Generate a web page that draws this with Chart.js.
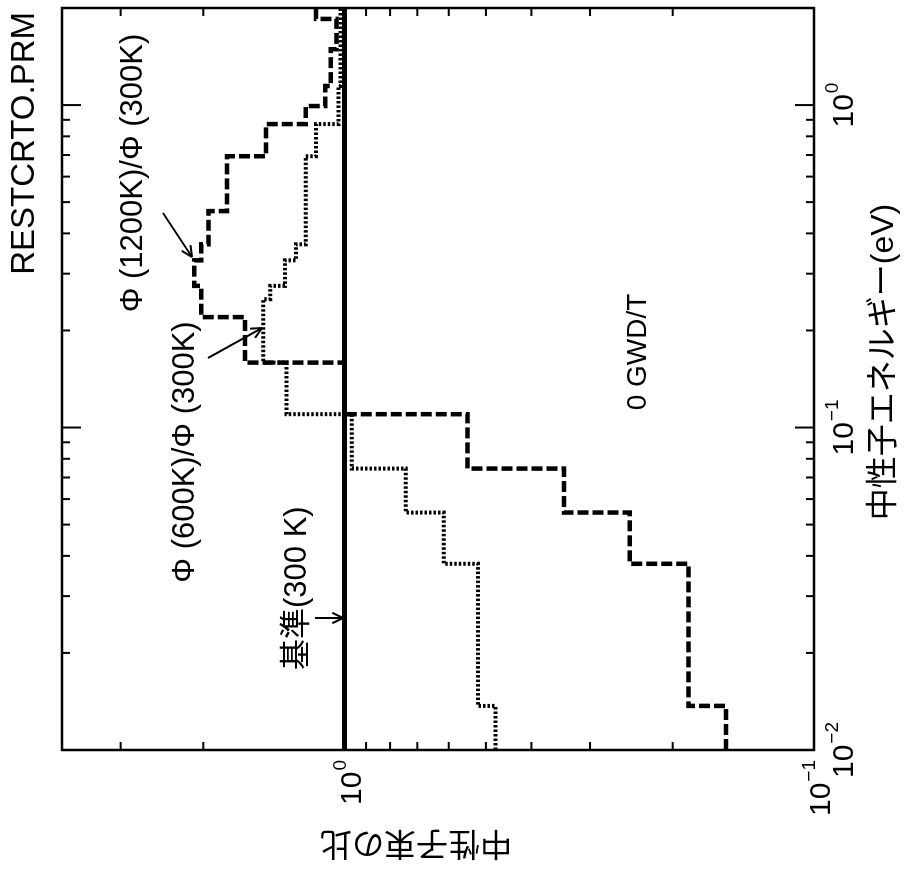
<!DOCTYPE html>
<html>
<head>
<meta charset="utf-8">
<script src="https://cdn.jsdelivr.net/npm/chart.js@4"></script>
<style>
  html, body { margin: 0; padding: 0; background: #fff; }
  body { width: 904px; height: 870px; overflow: hidden; position: relative; }
  /* the plot is laid out with energy along x, then turned a quarter turn */
  #wrap { position: absolute; left: 17px; top: -17px; width: 870px; height: 904px; transform: rotate(-90deg); }
</style>
</head>
<body>
<div id="wrap"><canvas id="myChart" width="870" height="904"></canvas></div>
<script>
'use strict';

// energy group boundaries (eV)
var energyBounds = [0.01, 0.0137, 0.0378, 0.0545, 0.0746, 0.110, 0.159, 0.220, 0.250, 0.275,
  0.330, 0.370, 0.469, 0.694, 0.873, 0.993, 1.146, 1.49, 1.85, 2.0];

// flux ratio per group
var ratio1200 = [0.154, 0.185, 0.247, 0.341, 0.547, 1.00, 1.63, 2.02, 2.02, 2.09,
  2.02, 1.95, 1.78, 1.47, 1.21, 1.10, 1.07, 1.04, 1.15];
var ratio600 = [0.477, 0.520, 0.615, 0.741, 0.966, 1.33, 1.49, 1.49, 1.44, 1.34,
  1.27, 1.21, 1.21, 1.15, 1.03, 1.03, 1.02, 1.02, 1.02];
var baseRatio = 1.0;

// axis ticks
var energyMajor = [0.01, 0.1, 1];
var energyMinor = [0.02, 0.03, 0.04, 0.05, 0.06, 0.07, 0.08, 0.09,
  0.2, 0.3, 0.4, 0.5, 0.6, 0.7, 0.8, 0.9];
var energyExp = ['\u22122', '\u22121', '0'];
var ratioMajor = [0.1, 1];
var ratioMinor = [0.2, 0.3, 0.4, 0.5, 0.6, 0.7, 0.8, 0.9, 2, 3];
var ratioExp = ['\u22121', '0'];

var LATIN = '"Liberation Sans", Arial, "Noto Sans CJK JP", sans-serif';

function steps(vals) {
  var pts = vals.map(function (v, i) {
    return { x: energyBounds[i], y: v };
  });
  pts.push({ x: energyBounds[energyBounds.length - 1], y: vals[vals.length - 1] });
  return pts;
}

function seg(ctx, x1, y1, x2, y2) {
  ctx.beginPath();
  ctx.moveTo(x1, y1);
  ctx.lineTo(x2, y2);
  ctx.stroke();
}

function arrow(ctx, x1, y1, x2, y2) {
  var a = Math.atan2(y2 - y1, x2 - x1);
  var h = 12, s = 0.45;
  seg(ctx, x1, y1, x2, y2);
  seg(ctx, x2, y2, x2 - h * Math.cos(a - s), y2 - h * Math.sin(a - s));
  seg(ctx, x2, y2, x2 - h * Math.cos(a + s), y2 - h * Math.sin(a + s));
}

// "10" with a raised exponent
function pow10(ctx, exp, x, baseline, align) {
  ctx.font = '30px ' + LATIN;
  var w1 = ctx.measureText('10').width;
  ctx.font = '19px ' + LATIN;
  var w2 = ctx.measureText(exp).width;
  var total = w1 + w2 + 1;
  var start = align === 'center' ? x - total / 2 : x - total;
  ctx.textAlign = 'left';
  ctx.textBaseline = 'alphabetic';
  ctx.font = '30px ' + LATIN;
  ctx.fillText('10', start, baseline);
  ctx.font = '19px ' + LATIN;
  ctx.fillText(exp, start + w1 + 1, baseline - 15);
}

var decorations = {
  id: 'decorations',
  afterDraw: function (chart) {
    var ctx = chart.ctx;
    var a = chart.chartArea;
    var xs = chart.scales.x, ys = chart.scales.y;
    ctx.save();
    ctx.strokeStyle = '#000';
    ctx.fillStyle = '#000';

    // frame
    ctx.lineWidth = 2.5;
    ctx.strokeRect(a.left, a.top, a.right - a.left, a.bottom - a.top);

    // inward ticks on all four sides
    ctx.lineWidth = 2;
    energyMajor.concat(energyMinor).forEach(function (e) {
      var px = xs.getPixelForValue(e);
      var len = energyMajor.indexOf(e) >= 0 ? 19 : 8;
      seg(ctx, px, a.bottom, px, a.bottom - len);
      seg(ctx, px, a.top, px, a.top + len);
    });
    ratioMajor.concat(ratioMinor).forEach(function (r) {
      var py = ys.getPixelForValue(r);
      var len = ratioMajor.indexOf(r) >= 0 ? 19 : 8;
      seg(ctx, a.left, py, a.left + len, py);
      seg(ctx, a.right, py, a.right - len, py);
    });

    // tick labels
    energyMajor.forEach(function (e, i) {
      pow10(ctx, energyExp[i], xs.getPixelForValue(e), a.bottom + 39, 'center');
    });
    ratioMajor.forEach(function (r, i) {
      pow10(ctx, ratioExp[i], a.left - 10, ys.getPixelForValue(r) + 16, 'right');
    });

    // axis titles
    ctx.textAlign = 'center';
    ctx.textBaseline = 'alphabetic';
    ctx.font = '32px ' + LATIN;
    ctx.fillText('中性子エネルギー(eV)', 508, 893);
    ctx.save();
    ctx.translate(28, 416);
    ctx.rotate(-Math.PI / 2);
    ctx.textBaseline = 'middle';
    ctx.fillText('中性子束の比', 0, 0);
    ctx.restore();

    // title and annotations
    ctx.textAlign = 'right';
    ctx.font = '33px ' + LATIN;
    ctx.fillText('RESTCRTO.PRM', 858, 34);

    ctx.textAlign = 'center';
    ctx.font = '31px ' + LATIN;
    ctx.fillText('\u03a6 (1200K)/\u03a6 (300K)', 697, 142);
    ctx.fillText('\u03a6 (600K)/\u03a6 (300K)', 418, 194);
    ctx.textAlign = 'left';
    ctx.fillText('基準(300 K)', 200, 306);
    ctx.textAlign = 'center';
    ctx.font = '28px ' + LATIN;
    ctx.fillText('0 GWD/T', 518, 646);

    ctx.lineWidth = 2;
    arrow(ctx, 657, 163, 613, 192);
    arrow(ctx, 512, 208, 542, 262);
    arrow(ctx, 252, 315, 252, 343);
    ctx.restore();
  }
};

var ctx = document.getElementById('myChart').getContext('2d');
var chart = new Chart(ctx, {
  type: 'line',
  data: {
    datasets: [{
      label: 'base',
      data: [{ x: 0.01, y: baseRatio }, { x: 2.0, y: baseRatio }],
      borderColor: '#000',
      borderWidth: 5,
      pointRadius: 0
    },
    {
      label: '1200K',
      data: steps(ratio1200),
      stepped: true,
      borderColor: '#000',
      borderWidth: 4.5,
      borderDash: [11, 4],
      pointRadius: 0
    },
    {
      label: '600K',
      data: steps(ratio600),
      stepped: true,
      borderColor: '#000',
      borderWidth: 4,
      borderDash: [2.5, 2],
      pointRadius: 0
    }]
  },
  options: {
    responsive: false,
    animation: false,
    devicePixelRatio: 1,
    layout: { padding: { top: 62, right: 8, left: 0, bottom: 0 } },
    plugins: { legend: { display: false }, tooltip: { enabled: false } },
    scales: {
      x: {
        type: 'logarithmic',
        min: 0.01,
        max: 2.0,
        ticks: { display: false },
        grid: { display: false },
        border: { display: false },
        afterFit: function (s) { s.height = 90; }
      },
      y: {
        type: 'logarithmic',
        min: 0.1,
        max: 4.0,
        ticks: { display: false },
        grid: { display: false },
        border: { display: false },
        afterFit: function (s) { s.width = 120; }
      }
    }
  },
  plugins: [decorations]
});
</script>
</body>
</html>
